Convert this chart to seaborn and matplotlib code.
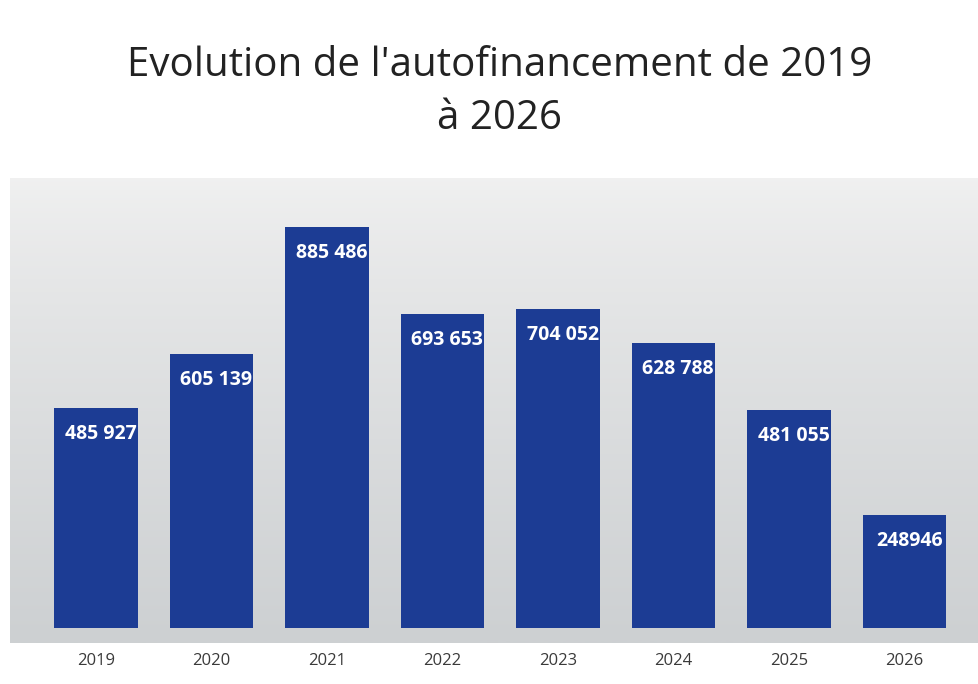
import numpy as np
import pandas as pd
import seaborn as sns
import matplotlib.pyplot as plt

# Autofinancement data
years = ["2019", "2020", "2021", "2022", "2023", "2024", "2025", "2026"]
values = [485927, 605139, 885486, 693653, 704052, 628788, 481055, 248946]
labels = ["485 927", "605 139", "885 486", "693 653", "704 052", "628 788", "481 055", "248946"]

df = pd.DataFrame({"annee": years, "montant": values})

sns.set_theme(style="white")
plt.rcParams['font.family'] = ['Open Sans', 'DejaVu Sans']

fig = plt.figure(figsize=(9.79, 6.84), dpi=100)
fig.patch.set_facecolor("white")

# grey gradient backdrop behind the bars
bg = fig.add_axes([0.01, 0.06, 0.99, 0.68], zorder=0)
grad = np.linspace(0, 1, 256).reshape(-1, 1) ** 0.8
bg.imshow(grad, aspect="auto", cmap=sns.light_palette("#cdd0d2", as_cmap=True),
          extent=[0, 1, 0, 1], origin="upper")
bg.axis("off")

ax = fig.add_axes([0.039, 0.082, 0.944, 0.662], zorder=1)
ax.patch.set_alpha(0)
sns.barplot(data=df, x="annee", y="montant", color="#1c3c94", saturation=1,
            width=0.72, linewidth=0, ax=ax)
ax.set_ylim(0, 1000000)
ax.set_xlim(-0.5, 7.5)
ax.set_yticks([])
ax.set_xlabel("")
ax.set_ylabel("")
for s in ax.spines.values():
    s.set_visible(False)
ax.tick_params(axis="x", length=0, pad=18, labelsize=12, labelcolor="#3a3a3a")

for i, (v, lab) in enumerate(zip(values, labels)):
    ax.text(i + 0.04, v - 58000, lab, ha="center", va="center", color="white",
            fontsize=14, fontweight="bold")

fig.text(0.51, 0.865, "Evolution de l'autofinancement de 2019\nà 2026", ha="center",
         va="center", fontsize=29, color="#222222", linespacing=1.4)

plt.savefig("out.png", dpi=100)
